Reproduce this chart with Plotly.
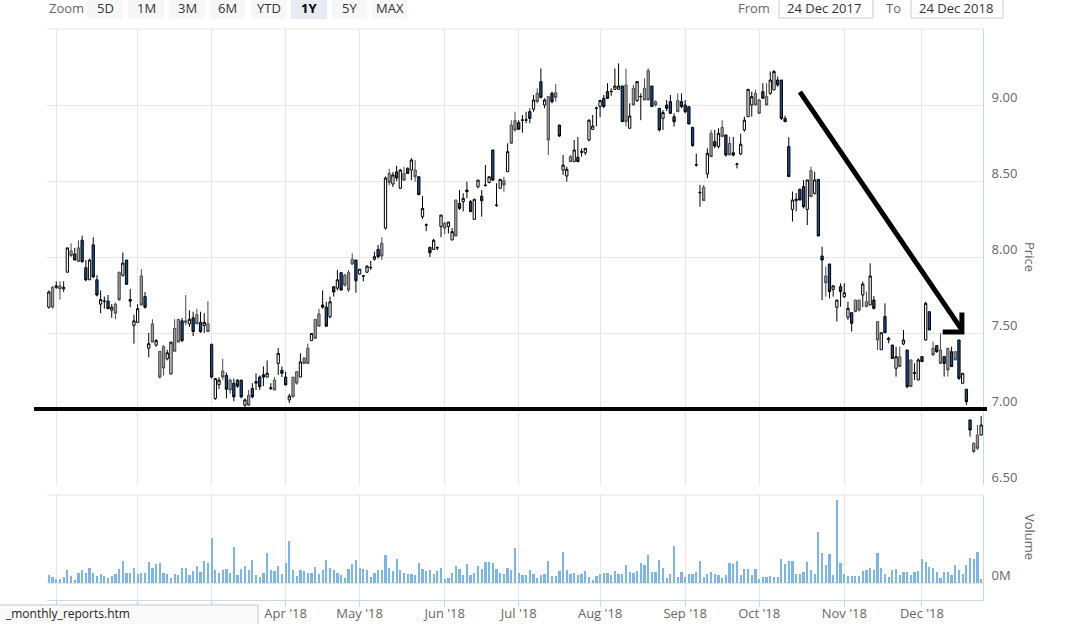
import plotly.graph_objects as go

# ---------------- data ----------------
opens = [
    7.67, 7.80, 7.80, 7.81, 7.79, 7.90, 8.04, 8.02, 8.06, 8.11,
    7.93, 7.85, 8.08, 7.85, 7.69, 7.71, 7.71, 7.65, 7.69, 7.90,
    7.88, 7.98, 7.72, 7.55, 7.57, 7.875, 7.74, 7.40, 7.56, 7.42,
    7.38, 7.41, 7.33, 7.23, 7.53, 7.59, 7.58, 7.58, 7.56, 7.60,
    7.62, 7.57, 7.55, 7.56, 7.425, 7.07, 7.16, 7.25, 7.22, 7.19,
    7.17, 7.19, 7.19, 7.025, 7.09, 7.135, 7.17, 7.21, 7.225, 7.21,
    7.14, 7.19, 7.30, 7.255, 7.21, 7.06, 7.21, 7.245, 7.21, 7.335,
    7.40, 7.45, 7.59, 7.625, 7.684, 7.67, 7.607, 7.805, 7.795, 7.897,
    7.88, 7.897, 7.985, 7.98, 7.888, 7.876, 7.90, 7.932, 7.985, 8.05,
    8.09, 8.19, 8.55, 8.48, 8.56, 8.452, 8.55, 8.583, 8.572, 8.572,
    8.528, 8.265, 8.212, 8.064, 8.05, 8.062, 8.20, 8.222, 8.20, 8.112,
    8.375, 8.353, 8.364, 8.44, 8.364, 8.248, 8.462, 8.40, 8.474, 8.49,
    8.704, 8.342, 8.452, 8.502, 8.561, 8.868, 8.897, 8.884, 8.902, 8.90,
    8.956, 8.972, 9.077, 9.153, 9.0, 9.055, 9.077, 9.081, 8.868, 8.572,
    8.533, 8.66, 8.627, 8.656, 8.693, 8.686, 8.77, 8.84, 8.98, 8.99,
    9.044, 9.088, 9.09, 9.103, 9.103, 9.125, 9.132, 8.847, 9.11, 9.029,
    9.056, 9.11, 9.226, 9.125, 9.022, 8.978, 8.912, 9.0, 9.022, 8.923,
    9.029, 9.022, 9.0, 8.989, 8.853, 8.607, 8.425, 8.458, 8.546, 8.814,
    8.759, 8.726, 8.853, 8.803, 8.748, 8.686, 8.612, 8.678, 8.836, 8.923,
    9.0, 9.077, 9.033, 9.088, 9.055, 9.077, 9.099, 9.164, 9.164, 8.912,
    8.726, 8.313, 8.37, 8.445, 8.463, 8.313, 8.568, 8.419, 8.511, 8.006,
    7.875, 7.954, 7.787, 7.669, 7.805, 7.739, 7.603, 7.634, 7.717, 7.717,
    7.75, 7.706, 7.684, 7.717, 7.575, 7.39, 7.608, 7.455, 7.421, 7.268,
    7.344, 7.428, 7.388, 7.323, 7.24, 7.191, 7.345, 7.454, 7.64, 7.399,
    7.417, 7.388, 7.345, 7.399, 7.377, 7.377, 7.454, 7.169, 7.13, 6.928,
    6.775, 6.829, 6.829,
]
highs = [
    7.78, 7.81, 7.84, 7.84, 7.84, 8.06, 8.09, 8.06, 8.11, 8.14,
    7.98, 7.99, 8.13, 7.88, 7.78, 7.74, 7.75, 7.69, 7.70, 7.90,
    8.03, 7.98, 7.79, 7.62, 7.69, 7.92, 7.77, 7.50, 7.59, 7.46,
    7.38, 7.42, 7.39, 7.44, 7.59, 7.59, 7.60, 7.75, 7.65, 7.64,
    7.66, 7.64, 7.63, 7.71, 7.43, 7.20, 7.21, 7.33, 7.24, 7.20,
    7.20, 7.195, 7.19, 7.07, 7.125, 7.17, 7.235, 7.22, 7.28, 7.32,
    7.17, 7.21, 7.40, 7.28, 7.245, 7.10, 7.21, 7.25, 7.366, 7.34,
    7.43, 7.50, 7.59, 7.66, 7.78, 7.705, 7.74, 7.805, 7.915, 7.90,
    7.89, 7.915, 8.024, 7.98, 7.92, 7.88, 7.945, 7.975, 8.035, 8.08,
    8.13, 8.53, 8.58, 8.56, 8.60, 8.58, 8.594, 8.59, 8.65, 8.638,
    8.53, 8.40, 8.22, 8.064, 8.12, 8.07, 8.276, 8.23, 8.23, 8.19,
    8.375, 8.44, 8.42, 8.496, 8.375, 8.38, 8.506, 8.44, 8.605, 8.528,
    8.704, 8.485, 8.511, 8.528, 8.748, 8.90, 8.956, 8.90, 8.934, 8.956,
    8.978, 9.066, 9.11, 9.241, 9.044, 9.055, 9.088, 9.138, 8.87, 8.671,
    8.594, 8.671, 8.77, 8.79, 8.715, 8.715, 8.906, 8.934, 8.99, 9.03,
    9.066, 9.143, 9.11, 9.241, 9.274, 9.125, 9.24, 9.011, 9.132, 9.154,
    9.077, 9.175, 9.241, 9.125, 9.03, 8.978, 8.967, 9.033, 9.066, 8.945,
    9.077, 9.077, 9.033, 8.989, 8.853, 8.68, 8.474, 8.474, 8.715, 8.836,
    8.836, 8.847, 8.90, 8.803, 8.79, 8.79, 8.62, 8.81, 8.923, 9.103,
    9.088, 9.10, 9.04, 9.143, 9.143, 9.22, 9.23, 9.186, 9.164, 8.93,
    8.788, 8.43, 8.42, 8.45, 8.507, 8.507, 8.594, 8.561, 8.511, 8.068,
    7.936, 7.954, 7.815, 7.717, 7.827, 7.827, 7.706, 7.634, 7.717, 7.717,
    7.838, 7.772, 7.958, 7.743, 7.575, 7.502, 7.695, 7.475, 7.421, 7.41,
    7.41, 7.52, 7.388, 7.323, 7.30, 7.334, 7.345, 7.706, 7.64, 7.443,
    7.417, 7.498, 7.35, 7.40, 7.41, 7.38, 7.454, 7.235, 7.13, 6.93,
    6.78, 6.895, 6.954,
]
lows = [
    7.66, 7.66, 7.79, 7.72, 7.77, 7.90, 8.00, 7.98, 7.97, 7.96,
    7.84, 7.85, 7.86, 7.74, 7.63, 7.66, 7.66, 7.60, 7.59, 7.71,
    7.87, 7.82, 7.67, 7.43, 7.57, 7.68, 7.66, 7.34, 7.44, 7.41,
    7.20, 7.22, 7.32, 7.23, 7.38, 7.44, 7.44, 7.55, 7.54, 7.48,
    7.56, 7.50, 7.50, 7.51, 7.20, 7.06, 7.13, 7.19, 7.07, 7.10,
    7.05, 7.14, 7.07, 7.00, 7.02, 7.07, 7.125, 7.125, 7.15, 7.21,
    7.125, 7.125, 7.225, 7.21, 7.158, 7.04, 7.08, 7.16, 7.21, 7.30,
    7.30, 7.45, 7.46, 7.545, 7.66, 7.54, 7.596, 7.74, 7.78, 7.78,
    7.805, 7.77, 7.947, 7.765, 7.882, 7.84, 7.895, 7.915, 7.976, 7.99,
    7.98, 8.18, 8.47, 8.46, 8.50, 8.45, 8.50, 8.55, 8.506, 8.496,
    8.41, 8.25, 8.17, 8.00, 8.046, 8.046, 8.13, 8.15, 8.155, 8.112,
    8.138, 8.31, 8.30, 8.386, 8.298, 8.244, 8.452, 8.265, 8.463, 8.485,
    8.50, 8.33, 8.452, 8.43, 8.561, 8.748, 8.825, 8.84, 8.818, 8.88,
    8.88, 8.956, 9.011, 9.044, 8.978, 8.671, 9.011, 9.022, 8.79, 8.54,
    8.496, 8.627, 8.627, 8.627, 8.66, 8.67, 8.76, 8.835, 8.86, 8.92,
    8.978, 9.04, 9.06, 9.10, 9.10, 8.89, 8.858, 8.847, 9.0, 9.02,
    8.90, 9.033, 9.033, 8.99, 8.99, 8.825, 8.836, 8.96, 8.945, 8.858,
    8.956, 8.978, 8.945, 8.875, 8.726, 8.594, 8.331, 8.371, 8.518, 8.66,
    8.715, 8.715, 8.792, 8.66, 8.671, 8.66, 8.583, 8.671, 8.825, 8.923,
    8.923, 9.0, 8.945, 9.044, 9.0, 9.066, 9.099, 9.12, 8.90, 8.89,
    8.529, 8.233, 8.30, 8.375, 8.32, 8.21, 8.397, 8.41, 8.138, 7.717,
    7.739, 7.728, 7.739, 7.575, 7.673, 7.73, 7.586, 7.509, 7.64, 7.64,
    7.67, 7.673, 7.684, 7.655, 7.388, 7.39, 7.502, 7.432, 7.333, 7.213,
    7.279, 7.42, 7.136, 7.147, 7.191, 7.191, 7.312, 7.45, 7.52, 7.35,
    7.37, 7.30, 7.213, 7.213, 7.279, 7.323, 7.191, 7.169, 7.027, 6.818,
    6.71, 6.73, 6.825,
]
closes = [
    7.77, 7.67, 7.81, 7.79, 7.80, 8.06, 8.01, 7.98, 7.97, 7.97,
    7.85, 7.98, 7.87, 7.75, 7.72, 7.71, 7.66, 7.67, 7.63, 7.72,
    7.96, 7.82, 7.71, 7.58, 7.66, 7.685, 7.67, 7.43, 7.44, 7.45,
    7.21, 7.27, 7.37, 7.44, 7.38, 7.44, 7.45, 7.57, 7.59, 7.51,
    7.56, 7.51, 7.57, 7.51, 7.21, 7.20, 7.19, 7.21, 7.13, 7.125,
    7.08, 7.15, 7.08, 7.06, 7.025, 7.08, 7.18, 7.147, 7.21, 7.235,
    7.135, 7.125, 7.366, 7.235, 7.158, 7.085, 7.08, 7.17, 7.31, 7.30,
    7.30, 7.497, 7.465, 7.545, 7.67, 7.545, 7.705, 7.77, 7.85, 7.783,
    7.815, 7.783, 7.954, 7.844, 7.92, 7.875, 7.94, 7.93, 8.002, 8.002,
    8.007, 8.52, 8.49, 8.54, 8.52, 8.572, 8.506, 8.55, 8.638, 8.528,
    8.41, 8.32, 8.21, 8.028, 8.11, 8.06, 8.276, 8.19, 8.23, 8.167,
    8.138, 8.32, 8.386, 8.43, 8.298, 8.38, 8.506, 8.37, 8.47, 8.528,
    8.506, 8.34, 8.511, 8.474, 8.693, 8.748, 8.835, 8.84, 8.90, 8.902,
    8.912, 9.033, 9.022, 9.05, 9.033, 8.77, 9.022, 9.05, 8.796, 8.605,
    8.577, 8.627, 8.704, 8.627, 8.69, 8.715, 8.90, 8.862, 8.978, 9.03,
    8.99, 9.044, 9.088, 9.125, 9.125, 8.89, 8.89, 8.928, 9.0, 9.154,
    9.055, 9.033, 9.033, 8.99, 9.0, 8.836, 8.95, 8.978, 8.945, 8.89,
    8.956, 8.99, 8.956, 8.875, 8.733, 8.605, 8.423, 8.371, 8.682, 8.66,
    8.73, 8.814, 8.792, 8.671, 8.671, 8.671, 8.61, 8.742, 8.90, 9.103,
    9.055, 9.0, 8.945, 9.044, 9.0, 9.164, 9.22, 9.132, 8.912, 8.89,
    8.529, 8.375, 8.38, 8.375, 8.331, 8.507, 8.397, 8.507, 8.138, 7.98,
    7.83, 7.772, 7.81, 7.717, 7.772, 7.765, 7.662, 7.564, 7.64, 7.651,
    7.822, 7.673, 7.875, 7.662, 7.454, 7.502, 7.502, 7.465, 7.333, 7.344,
    7.279, 7.454, 7.147, 7.147, 7.235, 7.323, 7.312, 7.695, 7.52, 7.356,
    7.377, 7.30, 7.30, 7.257, 7.279, 7.323, 7.202, 7.235, 7.048, 6.862,
    6.72, 6.742, 6.895,
]
# candle class: W = hollow (white), G = grey, B = blue
kinds = (
    "WGWGWWGBGB" "BWBBWWBWGG" "WBBWWGBWGW" "GGWWGGBGWB" "GBWGBWWGBG"
    "BBBWGBWBBW" "BGWBBWGGWG" "GWGGBBWBWB" "GGGBWBWBWB" "GWGWBWGBWG"
    "BWBBWBWGWW" "GBWBBWWBBW" "BBWGWGGBBW" "BWGBWGBGBW" "WGWBBWWWBW"
    "BBBWWBGWGW" "BGGBGBWBBB" "GBBBBBBGWG" "BWGBGBBWWW" "WGGBGWWBBB"
    "BWWBBWGWBB" "GBWWBWWBGG" "WGWBGWBWBW" "GWBGBWBWBG" "BGBGBGBWBB"
    "GGW"
)
volumes_m = [
    0.45, 0.35, 0.24, 0.24, 0.35, 0.76, 0.39, 0.20, 0.61, 0.76,
    0.61, 0.90, 0.61, 0.39, 0.51, 0.39, 0.29, 0.41, 0.55, 0.82,
    1.31, 0.61, 0.61, 0.90, 0.55, 0.61, 0.61, 1.22, 0.90, 1.10,
    1.16, 0.61, 0.55, 0.29, 0.55, 0.49, 0.90, 0.90, 0.49, 0.69,
    1.02, 0.65, 1.31, 1.16, 2.65, 0.76, 0.61, 0.76, 0.82, 0.61,
    2.12, 0.49, 0.82, 1.02, 0.76, 1.37, 0.49, 0.35, 0.61, 1.78,
    0.76, 0.69, 1.02, 0.55, 1.16, 2.49, 0.76, 0.41, 0.76, 0.69,
    0.61, 0.61, 0.96, 0.55, 0.76, 1.37, 0.90, 0.76, 0.61, 0.49,
    0.29, 0.82, 1.10, 1.37, 0.90, 0.82, 0.76, 0.35, 0.61, 0.76,
    0.76, 1.63, 0.90, 0.69, 1.43, 0.76, 0.61, 0.55, 0.55, 0.49,
    1.16, 0.82, 0.69, 0.76, 0.55, 0.69, 0.90, 0.24, 0.29, 0.61,
    1.02, 0.82, 0.49, 1.10, 0.49, 0.61, 1.02, 0.82, 1.22, 1.22,
    1.16, 0.82, 0.61, 0.55, 0.90, 0.76, 2.04, 0.61, 0.49, 0.49,
    0.76, 0.55, 0.29, 0.45, 0.55, 1.27, 0.41, 0.41, 0.69, 1.84,
    0.76, 0.55, 0.61, 0.45, 0.55, 0.69, 0.35, 0.20, 0.41, 0.55,
    0.61, 0.61, 0.49, 0.69, 0.55, 0.55, 1.06, 0.65, 0.61, 0.69,
    1.16, 1.06, 1.63, 0.65, 0.65, 1.37, 0.90, 0.29, 0.55, 2.18,
    0.35, 0.65, 0.35, 0.55, 0.55, 0.65, 1.27, 0.35, 0.55, 0.65,
    0.55, 0.45, 0.29, 0.45, 1.16, 1.12, 1.27, 0.45, 0.82, 0.82,
    0.45, 0.85, 0.24, 0.35, 0.35, 0.41, 0.35, 0.35, 1.43, 1.12,
    1.27, 1.27, 0.55, 0.55, 0.65, 1.22, 0.76, 0.55, 3.00, 1.78,
    1.06, 1.71, 0.45, 4.90, 1.16, 0.55, 0.41, 0.41, 0.41, 0.41,
    0.69, 0.76, 0.90, 0.76, 1.78, 0.90, 0.55, 0.35, 0.76, 0.82,
    0.45, 0.65, 0.65, 0.45, 0.65, 0.69, 1.43, 1.22, 0.94, 0.90,
    0.65, 0.29, 0.65, 0.65, 0.45, 1.06, 0.76, 0.55, 1.06, 1.47,
    1.43, 1.84, 0.24,
]
month_labels = ["Jan '18", "Feb '18", "Mar '18", "Apr '18", "May '18", "Jun '18",
                "Jul '18", "Aug '18", "Sep '18", "Oct '18", "Nov '18", "Dec '18"]
month_first_session = [2, 24, 44, 64, 84, 107, 127, 149, 172, 192, 215, 236]
price_ticks = [6.5, 7.0, 7.5, 8.0, 8.5, 9.0]
support_level = 7.00
range_buttons = ["5D", "1M", "3M", "6M", "YTD", "1Y", "5Y", "MAX"]
selected_button = "1Y"
date_from, date_to = "24 Dec 2017", "24 Dec 2018"

# ---------------- layout helpers ----------------
W, H = 1069, 624
ML, MR, MT, MB = 47, 86, 29, 24
PW, PH = W - ML - MR, H - MT - MB


def px(x):
    return (x - ML) / PW


def py(y):
    return (H - MB - y) / PH


FONT = "Open Sans"
LABEL = "#666666"
GRID = "#e6e6e6"
AXLINE = "#ccd6eb"

n = len(closes)
idx = list(range(n))

fig = go.Figure()

styles = {"W": ("#ffffff", "#000000"), "G": ("#9e9e9e", "#4a4a4a"), "B": ("#17508f", "#000000")}
for k, (fill, line) in styles.items():
    sel = [i for i in idx if kinds[i] == k]
    st = dict(fillcolor=fill, line=dict(color=line, width=1))
    fig.add_trace(go.Candlestick(
        x=sel,
        open=[opens[i] for i in sel], high=[highs[i] for i in sel],
        low=[lows[i] for i in sel], close=[closes[i] for i in sel],
        increasing=st, decreasing=st, whiskerwidth=0,
        xaxis="x", yaxis="y", showlegend=False, name="Price",
    ))

fig.add_trace(go.Bar(x=idx, y=volumes_m, width=0.6, marker=dict(color="#7cb5ec", line=dict(width=0)),
                     xaxis="x2", yaxis="y2", showlegend=False, name="Volume"))

ticktext_bottom = [lab if i >= 3 else "" for i, lab in enumerate(month_labels)]

fig.update_layout(
    width=W, height=H,
    margin=dict(l=ML, r=MR, t=MT, b=MB, autoexpand=False),
    paper_bgcolor="white", plot_bgcolor="white",
    font=dict(family=FONT, size=13, color=LABEL),
    boxgap=0.12,
    bargap=0,
    xaxis=dict(domain=[0, 1], anchor="y", range=[-0.5, n - 0.5],
               tickvals=month_first_session, showticklabels=False, ticks="",
               showgrid=True, gridcolor=GRID, gridwidth=1, zeroline=False,
               rangeslider=dict(visible=False), showline=False),
    xaxis2=dict(domain=[0, 1], anchor="y2", matches="x", range=[-0.5, n - 0.5],
                tickvals=month_first_session, ticktext=ticktext_bottom,
                ticks="outside", ticklen=6, tickcolor=AXLINE,
                ticklabelstandoff=-5,
                showgrid=True, gridcolor=GRID, zeroline=False,
                showline=True, linecolor=AXLINE, linewidth=1,
                tickfont=dict(family=FONT, size=13, color=LABEL)),
    yaxis=dict(domain=[py(485), 1], anchor="x", side="right", range=[6.5, 9.5],
               tickvals=price_ticks, tickformat=".2f", ticks="",
               showgrid=True, gridcolor=GRID, zeroline=False,
               showline=True, linecolor=AXLINE, linewidth=1,
               ticklabelshift=-8, ticklabelstandoff=5,
               tickfont=dict(family=FONT, size=13, color=LABEL)),
    yaxis2=dict(domain=[0, py(495)], anchor="x2", side="right", range=[-1, 5.18],
                tickvals=[0], ticktext=["0M"], ticks="",
                showgrid=True, gridcolor=GRID, zeroline=False,
                showline=True, linecolor=AXLINE, linewidth=1,
                ticklabelshift=-8, ticklabelstandoff=5,
                tickfont=dict(family=FONT, size=13, color=LABEL)),
)

shapes = []
annotations = []

# pane top borders
shapes.append(dict(type="line", xref="paper", yref="paper", x0=0, x1=1, y0=1, y1=1,
                   line=dict(color=GRID, width=1)))
shapes.append(dict(type="line", xref="paper", yref="paper", x0=0, x1=1, y0=py(495), y1=py(495),
                   line=dict(color=GRID, width=1)))

# hand-drawn support line at 7.00
shapes.append(dict(type="line", xref="paper", yref="y", x0=px(34), x1=px(987),
                   y0=support_level, y1=support_level, line=dict(color="black", width=4), layer="above"))
# hand-drawn arrow
shapes.append(dict(type="line", xref="x", yref="y", x0=203.0, y0=9.086, x1=246.8, y1=7.52,
                   line=dict(color="black", width=5), layer="above"))
shapes.append(dict(type="path", xref="x", yref="y",
                   path="M 241.6 7.507 L 246.8 7.507 L 246.8 7.635",
                   line=dict(color="black", width=5), layer="above"))

# range selector
annotations.append(dict(text="Zoom", xref="paper", yref="paper", x=px(47), y=py(8.5),
                        xanchor="left", yanchor="middle", showarrow=False,
                        font=dict(family=FONT, size=13, color="#666666")))
btn_x = [(87, 123), (128, 164), (169, 205), (210, 245), (251, 286), (291, 327), (332, 367), (372, 407)]
for lab, (a, b) in zip(range_buttons, btn_x):
    sel = lab == selected_button
    shapes.append(dict(type="rect", xref="paper", yref="paper", x0=px(a), x1=px(b), y0=py(19), y1=py(-3),
                       fillcolor="#e6ebf5" if sel else "#f7f7f7", line=dict(width=0), layer="above"))
    annotations.append(dict(text=f"<b>{lab}</b>" if sel else lab, xref="paper", yref="paper",
                            x=px((a + b) / 2), y=py(8.5), xanchor="center", yanchor="middle", showarrow=False,
                            font=dict(family=FONT, size=13, color="#000000" if sel else "#333333")))

annotations.append(dict(text="From", xref="paper", yref="paper", x=px(772), y=py(8.5),
                        xanchor="right", yanchor="middle", showarrow=False,
                        font=dict(family=FONT, size=13, color="#666666")))
annotations.append(dict(text="To", xref="paper", yref="paper", x=px(903), y=py(8.5),
                        xanchor="right", yanchor="middle", showarrow=False,
                        font=dict(family=FONT, size=13, color="#666666")))
for txt, (a, b) in [(date_from, (779, 873)), (date_to, (911, 1003))]:
    shapes.append(dict(type="rect", xref="paper", yref="paper", x0=px(a), x1=px(b), y0=py(18), y1=py(-3),
                       fillcolor="white", line=dict(color="#cccccc", width=1), layer="above"))
    annotations.append(dict(text=txt, xref="paper", yref="paper", x=px(a + 6), y=py(8.5),
                            xanchor="left", yanchor="middle", showarrow=False,
                            font=dict(family=FONT, size=13, color="#333333")))

# axis titles
annotations.append(dict(text="Price", xref="paper", yref="paper", x=px(1030), y=py(257),
                        xanchor="center", yanchor="middle", showarrow=False, textangle=90,
                        font=dict(family=FONT, size=13, color="#666666")))
annotations.append(dict(text="Volume", xref="paper", yref="paper", x=px(1030), y=py(537),
                        xanchor="center", yanchor="middle", showarrow=False, textangle=90,
                        font=dict(family=FONT, size=13, color="#666666")))

# browser status bar overlay
shapes.append(dict(type="rect", xref="paper", yref="paper", x0=px(-2), x1=px(258), y0=py(628), y1=py(605),
                   fillcolor="#fafafa", line=dict(color="#c8c8c8", width=1), layer="above"))
annotations.append(dict(text="_monthly_reports.htm", xref="paper", yref="paper", x=px(3), y=py(613),
                        xanchor="left", yanchor="middle", showarrow=False,
                        font=dict(family=FONT, size=12, color="#222222")))

fig.update_layout(shapes=shapes, annotations=annotations)
fig.write_html(
    "out.html",
    config={"displayModeBar": False},
    post_script="document.body.style.margin='0';document.body.style.overflow='hidden';",
)
